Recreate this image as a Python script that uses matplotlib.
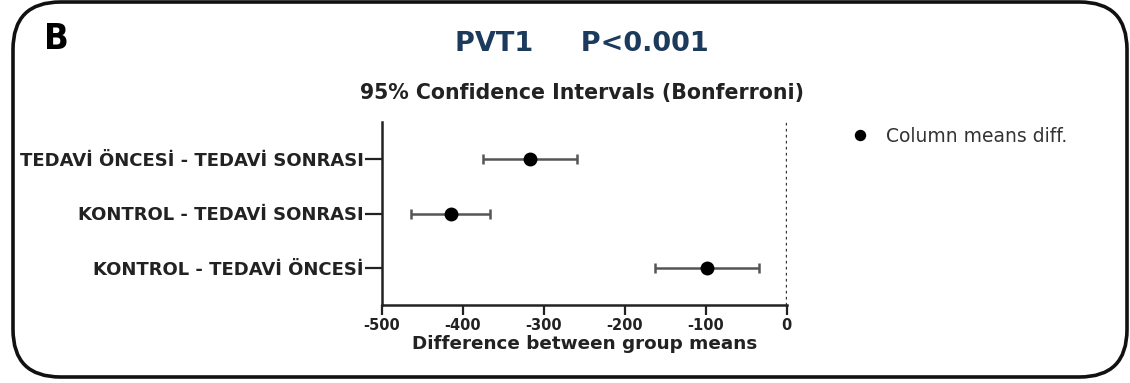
import numpy as np
import matplotlib.pyplot as plt
from matplotlib.patches import FancyBboxPatch

comparisons = ["TEDAVİ ÖNCESİ - TEDAVİ SONRASI",
               "KONTROL - TEDAVİ SONRASI",
               "KONTROL - TEDAVİ ÖNCESİ"]
mean_diff = [-317, -415, -98]
ci_low = [-375, -464, -163]
ci_high = [-259, -366, -34]
xticks = [-500, -400, -300, -200, -100, 0]

plt.rcParams['font.family'] = ['DejaVu Sans']

fig = plt.figure(figsize=(11.30, 3.83), dpi=100)

# rounded panel frame
frame = FancyBboxPatch((13/1130, 6/383), 1114/1130, 375/383,
                       boxstyle="round,pad=0,rounding_size=0.042",
                       transform=fig.transFigure, fill=False,
                       edgecolor="#111111", linewidth=2.6,
                       mutation_aspect=1130/383)
fig.patches.append(frame)

fig.text(44/1130, 1 - 39/383, "B", fontsize=26, fontweight="bold",
         family="DejaVu Sans", fontstretch="condensed",
         va="center", ha="left")
fig.text(582/1130, 1 - 44/383, "PVT1     P<0.001", fontsize=19.5,
         fontweight="bold", color="#1c3a5c", ha="center", va="center")
fig.text(582/1130, 1 - 93/383, "95% Confidence Intervals (Bonferroni)",
         fontsize=14.8, fontweight="bold", color="#222222",
         ha="center", va="center")

ax = fig.add_axes([381.7/1130, 78/383, 405/1130, 183/383])

y = np.arange(len(comparisons))
mean_diff = np.array(mean_diff)
err = [mean_diff - np.array(ci_low), np.array(ci_high) - mean_diff]
ax.errorbar(mean_diff, y, xerr=err, fmt="none", ecolor="#555555",
            elinewidth=1.8, capsize=3.5, capthick=1.8, zorder=2)
ax.plot(mean_diff, y, "o", color="black", markersize=9, zorder=3,
        label="Column means diff.")
# zero line
ax.axvline(0, color="#333333", linestyle=(0, (0.8, 1.0)), linewidth=2.4,
           zorder=1)

ax.set_xlim(-500, 0)
ax.set_ylim(2.67, -0.67)
ax.set_yticks(y)
ax.set_yticklabels(comparisons, fontsize=13, fontweight="bold",
                   color="#222222")
ax.set_xticks(xticks)
ax.set_xticklabels([str(t) for t in xticks], fontsize=10.5,
                   fontweight="bold", color="#222222")
ax.set_xlabel("Difference between group means", fontsize=13.2,
              fontweight="bold", color="#222222", labelpad=2)

for s in ["top", "right"]:
    ax.spines[s].set_visible(False)
for s in ["left", "bottom"]:
    ax.spines[s].set_linewidth(1.8)
    ax.spines[s].set_color("#222222")
ax.tick_params(axis="both", width=1.6, length=7, color="#222222", pad=2)
ax.tick_params(axis="y", length=12, pad=1)

ax.legend(loc="upper left", bbox_to_anchor=(832/1130, 1 - 110/383),
          bbox_transform=fig.transFigure, frameon=False, fontsize=13.5,
          handletextpad=0.8, markerscale=0.8, handlelength=1.2,
          labelcolor="#333333")

fig.savefig("out.png", dpi=100)
